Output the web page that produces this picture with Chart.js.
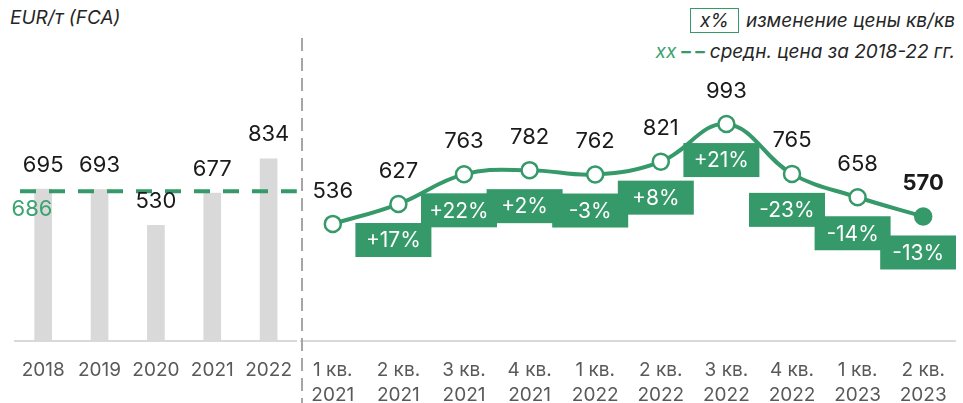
<!DOCTYPE html>
<html lang="ru">
<head>
<meta charset="UTF-8">
<title>EUR/т (FCA)</title>
<script src="https://cdn.jsdelivr.net/npm/chart.js"></script>
<style>
  body {
    margin: 0;
    width: 963px;
    height: 403px;
    background: #fff;
    font-family: Inter, sans-serif;
    position: relative;
    overflow: hidden;
  }
  .title {
    position: absolute;
    left: 10px;
    top: 6px;
    font-style: italic;
    font-size: 19px;
    color: #262626;
  }
  .legend {
    position: absolute;
    right: 8px;
    font-style: italic;
    font-size: 19px;
    color: #262626;
    white-space: nowrap;
  }
  .leg1 { top: 8px; }
  .leg2 { top: 40px; }
  .pctbox {
    display: inline-block;
    border: 1.5px solid #35996a;
    padding: 0 9px;
    margin-right: 7px;
    line-height: 23px;
  }
  .green { color: #3aa370; }
  .dash { color: #35996a; font-style: normal; font-weight: bold; margin: 0 5px; }
  .sep {
    position: absolute;
    left: 301px;
    top: 38px;
    width: 2px;
    height: 365px;
    background: repeating-linear-gradient(to bottom, #a6a6a6 0 13px, transparent 13px 20px);
  }
  #leftBox { position: absolute; left: 0; top: 0; width: 300px; height: 403px; }
  #rightBox { position: absolute; left: 300px; top: 0; width: 656px; height: 403px; }
</style>
</head>
<body>
<div class="title">EUR/т (FCA)</div>
<div class="legend leg1"><span class="pctbox">x%</span>изменение цены кв/кв</div>
<div class="legend leg2"><span class="green">xx</span><span class="dash">– –</span>средн. цена за 2018-22 гг.</div>

<div id="leftBox"><canvas id="yearChart"></canvas></div>
<div id="rightBox"><canvas id="quarterChart"></canvas></div>
<div class="sep"></div>

<script>
  // годовые цены
  const years = ['2018', '2019', '2020', '2021', '2022'];
  const yearPrices = [695, 693, 530, 677, 834];
  const avgPrice = 686;

  // квартальные цены
  const quarters = [
    ['1 кв.', '2021'], ['2 кв.', '2021'], ['3 кв.', '2021'], ['4 кв.', '2021'],
    ['1 кв.', '2022'], ['2 кв.', '2022'], ['3 кв.', '2022'], ['4 кв.', '2022'],
    ['1 кв.', '2023'], ['2 кв.', '2023']
  ];
  const quarterPrices = [536, 627, 763, 782, 762, 821, 993, 765, 658, 570];
  const changeLabels = ['', '+17%', '+22%', '+2%', '-3%', '+8%', '+21%', '-23%', '-14%', '-13%'];

  const yMax = 1300;

  const GREEN = '#35996a';
  const TEXT = '#1a1a1a';
  const FONT = 'Inter, sans-serif';

  Chart.defaults.font.family = FONT;

  function xAxis() {
    return {
      offset: true,
      grid: { display: false },
      border: { display: true, color: '#d9d9d9', width: 2 },
      ticks: { color: '#595959', font: { size: 19, lineHeight: 1.35 }, padding: 8, maxRotation: 0, autoSkip: false },
      afterFit: function(scale) { scale.height = 62; }
    };
  }

  const yAxis = { display: false, min: 0, max: yMax };

  const yearLabelsPlugin = {
    id: 'yearLabels',
    afterDatasetsDraw(chart) {
      const ctx = chart.ctx;
      const meta = chart.getDatasetMeta(0);
      const area = chart.chartArea;
      const y = chart.scales.y.getPixelForValue(avgPrice);

      ctx.save();
      // средняя цена
      ctx.strokeStyle = GREEN;
      ctx.lineWidth = 4;
      ctx.setLineDash([16, 13]);
      ctx.beginPath();
      ctx.moveTo(area.left + 5, y);
      ctx.lineTo(area.right, y);
      ctx.stroke();
      ctx.setLineDash([]);

      ctx.font = '22px ' + FONT;
      ctx.textAlign = 'center';
      ctx.textBaseline = 'middle';
      ctx.fillStyle = '#3aa370';
      ctx.fillText(String(avgPrice), area.left + 17, y + 18);

      ctx.fillStyle = TEXT;
      meta.data.forEach(function(bar, i) {
        ctx.fillText(String(yearPrices[i]), bar.x, bar.y - 24);
      });
      ctx.restore();
    }
  };

  const quarterLabelsPlugin = {
    id: 'quarterLabels',
    afterDatasetsDraw(chart) {
      const ctx = chart.ctx;
      const meta = chart.getDatasetMeta(0);
      ctx.save();
      ctx.textAlign = 'center';
      ctx.textBaseline = 'middle';
      meta.data.forEach(function(pt, i) {
        if (changeLabels[i]) {
          const cx = pt.x - 5, cy = pt.y + 36;
          ctx.fillStyle = GREEN;
          ctx.fillRect(cx - 38, cy - 17, 76, 34);
          ctx.fillStyle = '#ffffff';
          ctx.font = '21px ' + FONT;
          ctx.fillText(changeLabels[i], cx, cy + 1);
        }
        const last = i === meta.data.length - 1;
        ctx.fillStyle = TEXT;
        ctx.font = (last ? 'bold ' : '') + '22px ' + FONT;
        ctx.fillText(String(quarterPrices[i]), pt.x, pt.y - 33);
      });
      ctx.restore();
    }
  };

  new Chart(document.getElementById('yearChart'), {
    type: 'bar',
    data: {
      labels: years,
      datasets: [{ data: yearPrices, backgroundColor: '#d9d9d9', barThickness: 17 }]
    },
    options: {
      responsive: true,
      maintainAspectRatio: false,
      animation: false,
      events: [],
      layout: { autoPadding: false, padding: { top: 57, left: 15, right: 0, bottom: 0 } },
      plugins: { legend: { display: false }, tooltip: { enabled: false } },
      scales: { x: xAxis(), y: yAxis }
    },
    plugins: [yearLabelsPlugin]
  });

  new Chart(document.getElementById('quarterChart'), {
    type: 'line',
    data: {
      labels: quarters,
      datasets: [{
        data: quarterPrices,
        borderColor: GREEN,
        borderWidth: 4,
        tension: 0.4,
        pointRadius: 8,
        pointBorderWidth: 2.5,
        pointBorderColor: GREEN,
        pointBackgroundColor: quarterPrices.map((v, i) => i === quarterPrices.length - 1 ? GREEN : '#ffffff'),
        clip: false
      }]
    },
    options: {
      responsive: true,
      maintainAspectRatio: false,
      animation: false,
      events: [],
      layout: { autoPadding: false, padding: { top: 57, left: 0, right: 0, bottom: 0 } },
      plugins: { legend: { display: false }, tooltip: { enabled: false } },
      scales: { x: xAxis(), y: yAxis }
    },
    plugins: [quarterLabelsPlugin]
  });
</script>
</body>
</html>
